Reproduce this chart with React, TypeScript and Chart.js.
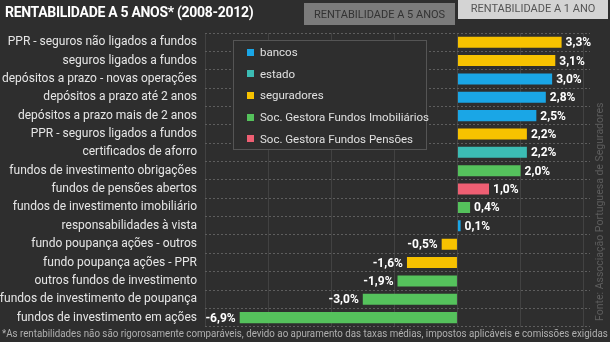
import React, { useEffect, useRef } from "react";
import { Chart, registerables } from "chart.js";

Chart.register(...registerables);

const categories = [
  "PPR - seguros não ligados a fundos",
  "seguros ligados a fundos",
  "depósitos a prazo - novas operações",
  "depósitos a prazo até 2 anos",
  "depósitos a prazo mais de 2 anos",
  "PPR - seguros ligados a fundos",
  "certificados de aforro",
  "fundos de investimento obrigações",
  "fundos de pensões abertos",
  "fundos de investimento imobiliário",
  "responsabilidades à vista",
  "fundo poupança ações - outros",
  "fundo poupança ações - PPR",
  "outros fundos de investimento",
  "fundos de investimento de poupança",
  "fundos de investimento em ações",
];

const values = [3.3, 3.1, 3.0, 2.8, 2.5, 2.2, 2.2, 2.0, 1.0, 0.4, 0.1, -0.5, -1.6, -1.9, -3.0, -6.9];

const groups = [
  "seguradores", "seguradores", "bancos", "bancos", "bancos", "seguradores", "estado",
  "Soc. Gestora Fundos Imobiliários", "Soc. Gestora Fundos Pensões", "Soc. Gestora Fundos Imobiliários",
  "bancos", "seguradores", "seguradores", "Soc. Gestora Fundos Imobiliários",
  "Soc. Gestora Fundos Imobiliários", "Soc. Gestora Fundos Imobiliários",
];

const legendNames = [
  "bancos",
  "estado",
  "seguradores",
  "Soc. Gestora Fundos Imobiliários",
  "Soc. Gestora Fundos Pensões",
];
const legendColors = ["#1aa6e6", "#3cbcb4", "#f7c200", "#55c25c", "#ef5f73"];

const xTicks = [-8, -6, -4, -2, 0, 2, 4];

const BG = "#2e2e2e";
const FONT = "Roboto, 'DejaVu Sans', sans-serif";

const colorFor = (g: string) => legendColors[legendNames.indexOf(g)];

const valueLabels = {
  id: "valueLabels",
  afterDatasetsDraw(chart: any) {
    const ctx = chart.ctx;
    const meta = chart.getDatasetMeta(0);
    ctx.save();
    ctx.fillStyle = "#ffffff";
    ctx.font = `bold 12px ${FONT}`;
    ctx.textBaseline = "middle";
    meta.data.forEach((el: any, i: number) => {
      const v = values[i];
      const txt = v.toFixed(1).replace(".", ",") + "%";
      if (v >= 0) {
        ctx.textAlign = "left";
        ctx.fillText(txt, el.x + 4, el.y + 1);
      } else {
        ctx.textAlign = "right";
        ctx.fillText(txt, el.x - 4, el.y + 1);
      }
    });
    ctx.restore();
  },
};

export default function App() {
  const ref = useRef<HTMLCanvasElement>(null);
  const footRef = useRef<HTMLDivElement>(null);
  useEffect(() => {
    if (footRef.current) {
      const w = footRef.current.scrollWidth;
      if (w > 0) footRef.current.style.transform = `scaleX(${606 / w})`;
    }
    if (!ref.current) return;
    const chart = new Chart(ref.current, {
      type: "bar",
      data: {
        labels: categories,
        datasets: [
          {
            data: values,
            backgroundColor: groups.map(colorFor),
            borderWidth: 0,
            categoryPercentage: 1,
            barPercentage: 0.6,
          },
        ],
      },
      options: {
        indexAxis: "y",
        animation: false,
        responsive: false,
        maintainAspectRatio: false,
        layout: { padding: { top: 33, bottom: 15, right: 20, left: 0 } },
        plugins: { legend: { display: false }, tooltip: { enabled: false } },
        scales: {
          x: {
            min: -8,
            max: 4.2,
            afterBuildTicks: (s: any) => {
              s.ticks = xTicks.map((v) => ({ value: v }));
            },
            afterFit: (s: any) => {
              s.height = 0;
            },
            ticks: { display: false },
            border: { display: false },
            grid: { color: "#424242", lineWidth: 1, drawTicks: false },
          },
          y: {
            afterFit: (s: any) => {
              s.width = 205;
            },
            ticks: {
              color: "#e6e6e6",
              font: { family: FONT, size: 12 },
              padding: 8,
              autoSkip: false,
            },
            border: { display: false, dash: [2, 2] },
            grid: {
              offset: true,
              color: "#5e5e5e",
              lineWidth: 1,
              drawTicks: false,
            },
          },
        },
      },
      plugins: [valueLabels],
    });
    return () => chart.destroy();
  }, []);

  return (
    <div
      style={{
        position: "fixed",
        left: 0,
        top: 0,
        width: 610,
        height: 342,
        background: BG,
        overflow: "hidden",
        fontFamily: FONT,
      }}
    >
      <canvas ref={ref} width={610} height={342} style={{ position: "absolute", left: 0, top: 0 }} />
      <div
        style={{
          position: "absolute",
          left: 5,
          top: 4,
          color: "#ffffff",
          fontSize: 14,
          fontWeight: 700,
          whiteSpace: "nowrap",
          letterSpacing: -0.3,
        }}
      >
        RENTABILIDADE A 5 ANOS* (2008-2012)
      </div>
      <div
        style={{
          position: "absolute",
          left: 304,
          top: 3,
          width: 151,
          height: 22,
          background: "#7b7b7b",
          color: "#333333",
          fontSize: 11,
          lineHeight: "24px",
          textAlign: "center",
          whiteSpace: "nowrap",
        }}
      >
        RENTABILIDADE A 5 ANOS
      </div>
      <div
        style={{
          position: "absolute",
          left: 458,
          top: 0,
          width: 150,
          height: 19,
          background: "#d4d4d4",
          color: "#555555",
          fontSize: 11,
          lineHeight: "17px",
          textAlign: "center",
          whiteSpace: "nowrap",
        }}
      >
        RENTABILIDADE A 1 ANO
      </div>
      <div
        style={{
          position: "absolute",
          left: 233,
          top: 40,
          width: 194,
          height: 110,
          border: "1px solid #555555",
          background: BG,
          boxSizing: "border-box",
        }}
      >
        {legendNames.map((n, i) => (
          <div
            key={n}
            style={{
              position: "absolute",
              left: 13,
              top: 4 + i * 21.7,
              height: 14,
              display: "flex",
              alignItems: "center",
              whiteSpace: "nowrap",
              color: "#e0e0e0",
              fontSize: 11.5,
            }}
          >
            <span
              style={{
                display: "inline-block",
                width: 7,
                height: 7,
                background: legendColors[i],
                marginRight: 6,
              }}
            />
            {n}
          </div>
        ))}
      </div>
      <div
        ref={footRef}
        style={{
          position: "absolute",
          left: 2,
          top: 328,
          color: "#b0b0b0",
          fontSize: 10,
          whiteSpace: "nowrap",
          transformOrigin: "0 0",
          display: "inline-block",
        }}
      >
        *As rentabilidades não são rigorosamente comparáveis, devido ao apuramento das taxas médias, impostos aplicáveis e comissões exigidas
      </div>
      <div
        style={{
          position: "absolute",
          left: 593,
          top: 321,
          transformOrigin: "0 0",
          transform: "rotate(-90deg)",
          color: "#5c5c5c",
          fontSize: 10.5,
          lineHeight: "13px",
          whiteSpace: "nowrap",
        }}
      >
        Fonte: Associação Portuguesa de Seguradores
      </div>
    </div>
  );
}
